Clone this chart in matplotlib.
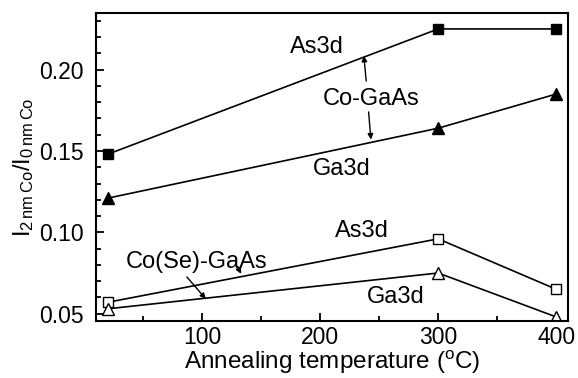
import numpy as np
import matplotlib.pyplot as plt
from matplotlib.ticker import MultipleLocator

plt.rcParams['font.family'] = ['Liberation Sans', 'DejaVu Sans']
plt.rcParams['mathtext.fontset'] = 'custom'
plt.rcParams['mathtext.rm'] = 'Liberation Sans'

# 데이터
temp = [20, 300, 400]
co_as3d = [0.148, 0.225, 0.225]
co_ga3d = [0.121, 0.164, 0.185]
cose_as3d = [0.057, 0.096, 0.065]
cose_ga3d = [0.053, 0.075, 0.048]

fig = plt.figure(figsize=(5.78, 3.78), dpi=100)
ax = fig.add_axes([96/578, 57/378, 472/578, 308/378])

ax.plot(temp, co_as3d, 'k-', marker='s', ms=7, lw=1.2)
ax.plot(temp, co_ga3d, 'k-', marker='^', ms=8, lw=1.2)
ax.plot(temp, cose_as3d, 'k-', marker='s', ms=7, mfc='white', lw=1.2)
ax.plot(temp, cose_ga3d, 'k-', marker='^', ms=8, mfc='white', lw=1.2)

ax.set_xlim(10, 410)
ax.set_ylim(0.0455, 0.2348)
ax.xaxis.set_major_locator(MultipleLocator(100))
ax.xaxis.set_minor_locator(MultipleLocator(50))
ax.yaxis.set_minor_locator(MultipleLocator(0.01))
ax.set_yticks([0.05, 0.10, 0.15, 0.20])
ax.set_yticklabels(['0.05', '0.10', '0.15', '0.20'])
ax.tick_params(which='both', direction='in', labelsize=16.5, width=1.3)
ax.tick_params(axis='y', pad=9)
ax.tick_params(which='major', length=6)
ax.tick_params(which='minor', length=3.5)
for s in ax.spines.values():
    s.set_linewidth(1.5)

ax.set_xlabel('Annealing temperature ($\\mathregular{^o}$C)', fontsize=17.5, labelpad=0)
ax.set_ylabel(r'$\mathregular{I_{2\,nm\,Co}/I_{0\,nm\,Co}}$', fontsize=17, labelpad=2)

# 라벨
fs = 17
ax.text(197, 0.214, 'As3d', fontsize=fs, ha='center', va='center')
ax.text(243, 0.1817, 'Co-GaAs', fontsize=fs, ha='center', va='center')
ax.text(218, 0.139, 'Ga3d', fontsize=fs, ha='center', va='center')
ax.text(235, 0.101, 'As3d', fontsize=fs, ha='center', va='center')
ax.text(95, 0.0817, 'Co(Se)-GaAs', fontsize=fs, ha='center', va='center')
ax.text(264, 0.0604, 'Ga3d', fontsize=fs, ha='center', va='center')

arr = dict(arrowstyle='-|>', color='k', lw=1.0, mutation_scale=8, shrinkA=0, shrinkB=0)
ax.annotate('', xy=(237, 0.2085), xytext=(239, 0.193), arrowprops=arr)
ax.annotate('', xy=(243, 0.157), xytext=(241, 0.174), arrowprops=arr)
ax.annotate('', xy=(133, 0.0745), xytext=(130, 0.0787), arrowprops=arr)
ax.annotate('', xy=(103, 0.0591), xytext=(87, 0.0726), arrowprops=arr)

plt.savefig('out.png', dpi=100)
